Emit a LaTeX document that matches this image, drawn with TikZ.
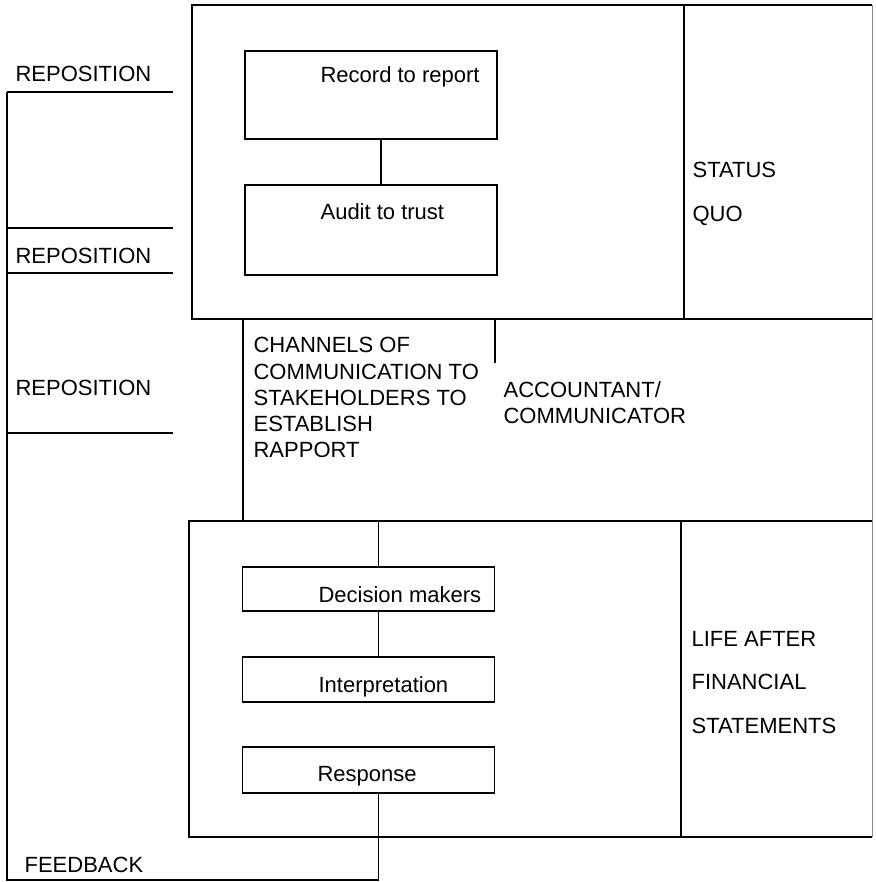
\documentclass[tikz,border=0pt]{standalone}
\usepackage{fontspec}
\setmainfont{Liberation Sans}

\begin{document}
\begin{tikzpicture}[x=0.5pt, y=-0.5pt, line width=0.6pt,
    box/.style={draw, minimum width=126pt, inner sep=0pt},
    lbl/.style={inner sep=0pt, align=left, font=\fontsize{11}{#1}\selectfont},
    lbl/.default=13.1,
    faint/.style={black!45, line width=0.4pt}]
    \useasboundingbox (0,0) rectangle (875,882);
    % Status quo
    \draw (872,5) -- (192,5) -- (192,319) -- (872,319);
    \draw (684,5) -- (684,319);
    \draw[faint] (872,5) -- (872,837);
    \node[box, minimum height=44pt] (rec) at (371,95) {};
    \node[box, minimum height=45pt] (aud) at (371,230) {};
    \draw ([xshift=5pt]rec.south) -- ([xshift=5pt]aud.north);
    \node[lbl, anchor=base west] (trec) at (320,83) {Record to report};
    \node[lbl, anchor=base west] (taud) at (320,220) {Audit to trust};
    \node[lbl=21.6, anchor=north west] (tsq) at (692,162) {STATUS\\QUO};
    % Communicator
    \draw (243,319) -- (243,521);
    \draw (495,319) -- (495,363);
    \node[lbl, anchor=north west] (tchan) at (253,337)
        {CHANNELS OF\\COMMUNICATION TO\\STAKEHOLDERS TO\\ESTABLISH\\RAPPORT};
    \node[lbl, anchor=north west] (tacc) at (503,381) {ACCOUNTANT/\\COMMUNICATOR};
    % Life after financial statements
    \coordinate (lf) at (189,521);
    \draw (872,521) -- (lf) -- (189,837) -- (872,837);
    \draw (681,521) -- (681,837);
    \node[box, minimum height=22pt] (dec) at (368.5,589) {};
    \node[box, minimum height=22.5pt] (int) at (368.5,679.5) {};
    \node[box, minimum height=23pt] (resp) at (368.5,770) {};
    \draw ([xshift=5pt]dec.north) -- ([xshift=5pt]dec.north |- lf);
    \draw ([xshift=5pt]dec.south) -- ([xshift=5pt]int.north);
    \node[lbl, anchor=base west] (tdec) at (318,602) {Decision makers};
    \node[lbl, anchor=base west] (tint) at (318,692) {Interpretation};
    \node[lbl, anchor=base west] (tresp) at (317,781) {Response};
    \node[lbl=21.6, anchor=north west] (tlife) at (691,631)
        {LIFE AFTER\\FINANCIAL\\STATEMENTS};
    % Reposition / feedback loop
    \coordinate (fb) at (7,880);
    \draw (7,92) -- (fb) -- ([xshift=5pt]resp.south |- fb) -- ([xshift=5pt]resp.south);
    \foreach \y in {92,228,273,433}
        \draw (7,\y) -- (173,\y);
    \node[lbl, anchor=base west] (rp1) at (15,82) {REPOSITION};
    \node[lbl, anchor=base west] (rp2) at (15,263) {REPOSITION};
    \node[lbl, anchor=base west] (rp3) at (15,395) {REPOSITION};
    \node[lbl, anchor=base west] (tfb) at (24,872) {FEEDBACK};
\end{tikzpicture}
\end{document}
